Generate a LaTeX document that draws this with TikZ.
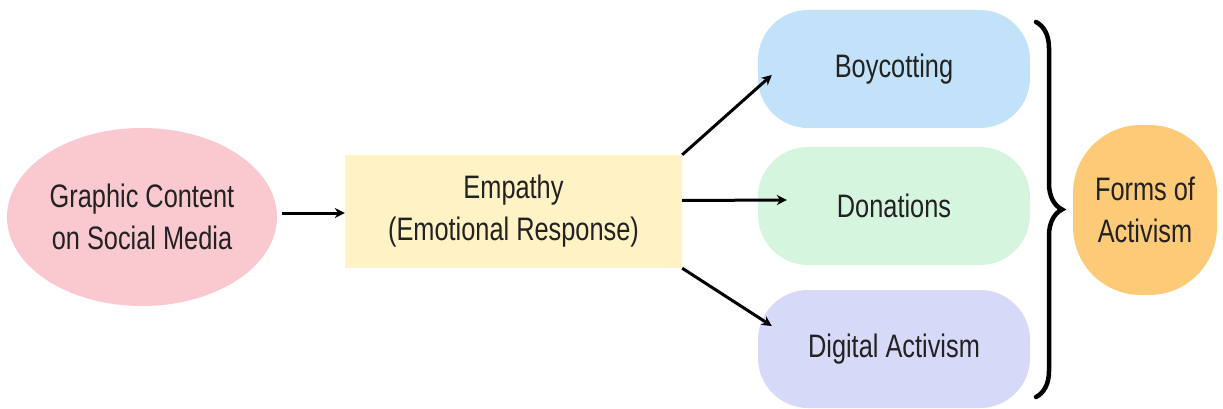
\documentclass[tikz,border=0pt]{standalone}
\usepackage{fontspec}
\setmainfont[FakeStretch=0.78]{Liberation Sans}
\usetikzlibrary{shapes.geometric,arrows.meta,decorations.pathreplacing}
\definecolor{pinkfill}{HTML}{FAC8CF}
\definecolor{yellowfill}{HTML}{FFF2C4}
\definecolor{bluefill}{HTML}{C2E2FA}
\definecolor{greenfill}{HTML}{D6F5DE}
\definecolor{lavfill}{HTML}{D6D9F7}
\definecolor{orangefill}{HTML}{FDCB78}
\definecolor{txt}{HTML}{222222}
\tikzset{
  lbl/.style={text=txt, font=\fontsize{32.5}{42}\selectfont, align=center, inner sep=0pt},
  pill/.style={lbl, rounded corners=50pt, minimum width=272pt, minimum height=118pt},
  conn/.style={line width=3pt, -{Stealth[length=10pt,width=10pt]}},
}
\begin{document}
\begin{tikzpicture}[x=1pt,y=-1pt]
\useasboundingbox (0,0) rectangle (1223,409);
\node[lbl, ellipse, fill=pinkfill, minimum width=270pt, minimum height=178pt] (gc) at (142,217) {Graphic Content\\on Social Media};
\node[lbl, rectangle, fill=yellowfill, minimum width=337pt, minimum height=113pt] (emp) at (513.5,211.5) {Empathy\\(Emotional Response)};
\node[pill, fill=bluefill] (boy) at (894,69) {Boycotting};
\node[pill, fill=greenfill] (don) at (894,206) {Donations};
\node[pill, fill=lavfill] (dig) at (894,349) {Digital Activism};
\node[lbl, rounded corners=68pt, fill=orangefill, minimum width=144pt, minimum height=170pt] (foa) at (1145,210) {Forms of\\Activism};
\draw[conn] ([xshift=5pt,yshift=4pt]gc.east) -- ([yshift=-1.5pt]emp.west);
\draw[conn] (emp.north east) -- ([xshift=14pt,yshift=-6pt]boy.west);
\draw[conn] ([yshift=11pt]emp.east) -- ([xshift=29pt,yshift=6pt]don.west);
\draw[conn] (emp.south east) -- ([xshift=14pt,yshift=23pt]dig.west);
\coordinate (bt) at (1036,22);
\coordinate (bb) at (1036,397);
\draw[line width=4.5pt, line cap=round, decorate, decoration={brace, amplitude=26pt, aspect=0.5}] (bt) -- (bb);
\end{tikzpicture}
\end{document}
